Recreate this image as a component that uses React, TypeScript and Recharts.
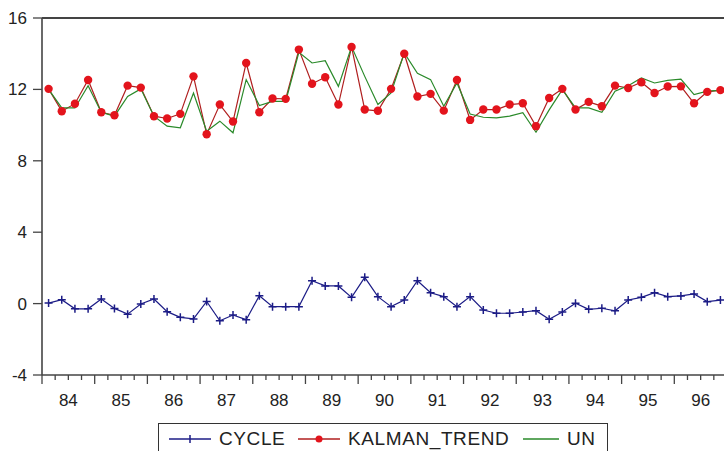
import { LineChart, Line, XAxis, YAxis, ReferenceLine } from 'recharts';

// quarterly 1984Q1 .. 1996Q4
const YEARS = ['84', '85', '86', '87', '88', '89', '90', '91', '92', '93', '94', '95', '96'];

const CYCLE = [
  0.03, 0.22, -0.29, -0.29, 0.26, -0.27, -0.59, -0.02, 0.26, -0.45, -0.77, -0.86, 0.12,
  -0.96, -0.64, -0.9, 0.44, -0.17, -0.17, -0.17, 1.28, 0.99, 0.99, 0.35, 1.47, 0.39,
  -0.17, 0.2, 1.28, 0.61, 0.39, -0.17, 0.39, -0.36, -0.54, -0.54, -0.47, -0.4, -0.88,
  -0.47, 0.02, -0.32, -0.26, -0.4, 0.2, 0.35, 0.61, 0.39, 0.43, 0.54, 0.11, 0.2,
];

const KALMAN_TREND = [
  12.03, 10.78, 11.2, 12.53, 10.72, 10.55, 12.21, 12.1, 10.5, 10.37, 10.63, 12.73, 9.49,
  11.15, 10.2, 13.48, 10.72, 11.49, 11.47, 14.23, 12.32, 12.68, 11.15, 14.38, 10.87, 10.8,
  12.03, 14.0, 11.6, 11.75, 10.81, 12.53, 10.29, 10.87, 10.87, 11.15, 11.22, 9.94, 11.52,
  12.03, 10.87, 11.3, 11.06, 12.21, 12.08, 12.4, 11.8, 12.16, 12.17, 11.22, 11.86, 11.96,
];

const UN = [
  12.0, 10.96, 10.96, 12.21, 10.72, 10.5, 11.6, 12.03, 10.5, 9.94, 9.85, 11.8, 9.66,
  10.22, 9.57, 12.55, 11.1, 11.33, 11.33, 14.08, 13.48, 13.61, 12.17, 14.4, 12.73, 11.15,
  11.8, 14.05, 12.9, 12.55, 11.06, 12.36, 10.62, 10.44, 10.4, 10.5, 10.69, 9.6, 10.85,
  11.99, 10.96, 10.96, 10.72, 11.9, 12.21, 12.64, 12.36, 12.51, 12.58, 11.71, 11.9, 11.95,
];

const Y_TICKS = [-4, 0, 4, 8, 12, 16];

const FONT = '"Liberation Sans", Arial, sans-serif';
const AXIS = '#444';
const BLUE = '#1c1c86';
const RED = '#e3141c';
const RED_LINE = '#b01f1f';
const GREEN = '#2a8a2a';

const rows = CYCLE.map((c, i) => ({
  x: i + 0.5,
  cycle: c,
  kalman: KALMAN_TREND[i],
  un: UN[i],
}));

const quarterTicks = Array.from({ length: YEARS.length * 4 + 1 }, (_, i) => i);

function QuarterTick(props: any) {
  const { x, y, payload } = props;
  const q = payload.value as number;
  const major = q % 4 === 0;
  const label = q % 4 === 2 ? YEARS[(q - 2) / 4] : null;
  return (
    <g>
      <line x1={x} x2={x} y1={y} y2={y + (major ? 9 : 5)} stroke={AXIS} strokeWidth={1.3} />
      {label && (
        <text x={x} y={y + 31} textAnchor="middle" fontSize={17} fill="#222" fontFamily={FONT}>
          {label}
        </text>
      )}
    </g>
  );
}

function PlusDot(props: any) {
  const { cx, cy } = props;
  if (cx == null || cy == null) return null;
  return (
    <path
      d={`M${cx - 4},${cy}H${cx + 4}M${cx},${cy - 4}V${cy + 4}`}
      stroke={BLUE}
      strokeWidth={1.5}
      fill="none"
    />
  );
}

function LegendBox() {
  const item = (left: number, len: number, color: string, text: string, marker?: 'plus' | 'dot') => (
    <div style={{ position: 'absolute', left, top: 0, height: 30, display: 'flex', alignItems: 'center' }}>
      <svg width={len} height={12} style={{ display: 'block' }}>
        <line x1={0} x2={len} y1={6} y2={6} stroke={color} strokeWidth={1.3} />
        {marker === 'plus' && <path d={`M${len / 2},2V10`} stroke={color} strokeWidth={1.5} />}
        {marker === 'dot' && <circle cx={len / 2} cy={6} r={3.5} fill={RED} />}
      </svg>
      <span style={{ marginLeft: 8, fontSize: 19, letterSpacing: 0.6, color: '#222', whiteSpace: 'nowrap' }}>
        {text}
      </span>
    </div>
  );
  return (
    <div
      style={{
        position: 'absolute', left: 158, top: 423, width: 448, height: 34,
        border: '1px solid #333', fontFamily: FONT, background: '#fff',
      }}
    >
      {item(10, 42, BLUE, 'CYCLE', 'plus')}
      {item(139, 42, RED_LINE, 'KALMAN_TREND', 'dot')}
      {item(364, 36, GREEN, 'UN')}
    </div>
  );
}

export default function App() {
  return (
    <div style={{ position: 'absolute', left: 0, top: 0, width: 724, height: 451, overflow: 'hidden', background: '#fff' }}>
      <LineChart width={728} height={451} data={rows} margin={{ top: 18, right: 1, left: 0, bottom: 36 }}>
        <ReferenceLine y={16} stroke={AXIS} strokeWidth={2} />
        <XAxis
          dataKey="x"
          type="number"
          domain={[0, YEARS.length * 4]}
          ticks={quarterTicks}
          interval={0}
          tickSize={0}
          tickMargin={0}
          height={40}
          axisLine={{ stroke: AXIS, strokeWidth: 1.6 }}
          tickLine={false}
          tick={<QuarterTick />}
        />
        <YAxis
          domain={[-4, 16]}
          ticks={Y_TICKS}
          interval={0}
          width={42}
          tickSize={9}
          tickMargin={6}
          axisLine={{ stroke: AXIS, strokeWidth: 1.6 }}
          tickLine={{ stroke: AXIS, strokeWidth: 1.3 }}
          tick={{ fontSize: 17, fill: '#222', fontFamily: FONT }}
        />
        <Line
          dataKey="cycle"
          stroke={BLUE}
          strokeWidth={1.2}
          dot={<PlusDot />}
          activeDot={false}
          isAnimationActive={false}
        />
        <Line
          dataKey="kalman"
          stroke={RED_LINE}
          strokeWidth={1.2}
          dot={{ r: 4.2, fill: RED, stroke: RED, strokeWidth: 0 }}
          activeDot={false}
          isAnimationActive={false}
        />
        <Line
          dataKey="un"
          stroke={GREEN}
          strokeWidth={1.2}
          dot={false}
          activeDot={false}
          isAnimationActive={false}
        />
      </LineChart>
      <LegendBox />
    </div>
  );
}
